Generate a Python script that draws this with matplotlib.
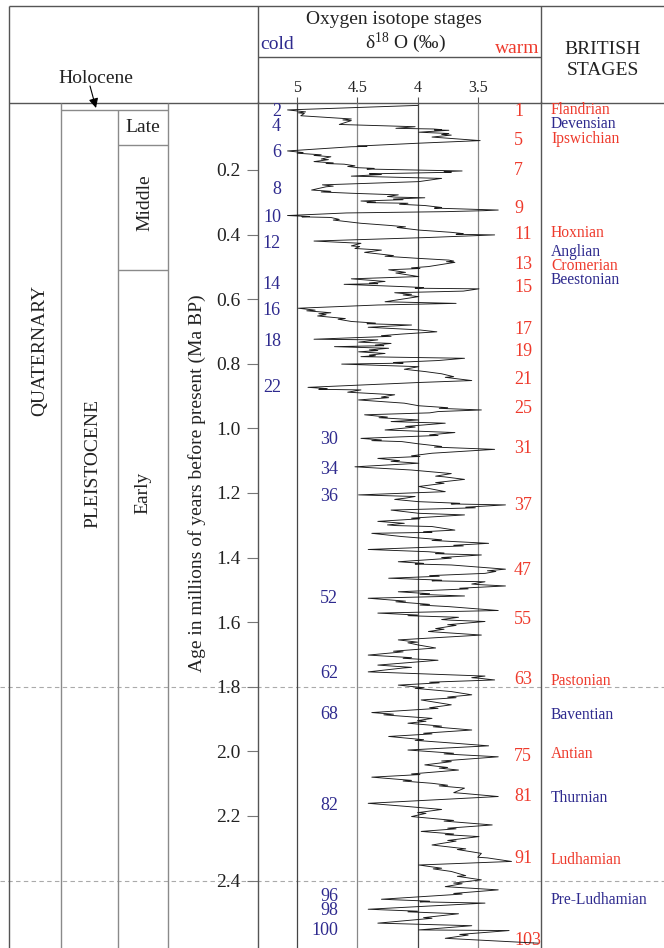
import numpy as np
import matplotlib
matplotlib.use('Agg')
import matplotlib.pyplot as plt
from matplotlib import transforms

plt.rcParams['font.family'] = ['Liberation Serif', 'DejaVu Serif']
plt.rcParams['mathtext.fontset'] = 'custom'
plt.rcParams['mathtext.rm'] = 'Liberation Serif'
plt.rcParams['mathtext.it'] = 'Liberation Serif:italic'

# ---------------- data: (age Ma, d18O permil) ----------------
record_0_06 = [(0.000, 4.00), (0.014, 5.08), (0.020, 4.93), (0.023, 4.99), (0.025, 4.94),
               (0.032, 4.97), (0.042, 4.55), (0.045, 4.62), (0.047, 4.55), (0.059, 4.65),
               (0.066, 4.02), (0.071, 4.18), (0.073, 3.87), (0.075, 3.80), (0.076, 3.86),
               (0.077, 3.74), (0.083, 3.99), (0.087, 3.74), (0.090, 3.80), (0.092, 3.72),
               (0.098, 3.88), (0.109, 3.48), (0.117, 3.99), (0.124, 4.40), (0.126, 4.50),
               (0.127, 4.42), (0.128, 4.55), (0.141, 5.08), (0.146, 4.95), (0.148, 5.00),
               (0.151, 4.88), (0.153, 4.80), (0.155, 4.86), (0.159, 4.72), (0.166, 4.80),
               (0.168, 4.74), (0.174, 4.86), (0.178, 4.70), (0.180, 4.76), (0.182, 4.61),
               (0.187, 4.52), (0.189, 4.58), (0.193, 4.49), (0.195, 4.36), (0.197, 4.42),
               (0.203, 3.63), (0.205, 3.78), (0.207, 3.72), (0.212, 4.40), (0.214, 4.30),
               (0.219, 4.55), (0.226, 3.80), (0.236, 3.99), (0.246, 4.79), (0.250, 4.70),
               (0.252, 4.76), (0.262, 4.88), (0.266, 4.72), (0.268, 4.80), (0.272, 4.55),
               (0.277, 4.16), (0.282, 4.25), (0.284, 4.18), (0.286, 3.94), (0.290, 4.20),
               (0.292, 4.12), (0.296, 4.47), (0.299, 4.35), (0.301, 4.42), (0.303, 4.08),
               (0.306, 4.15), (0.310, 3.94), (0.316, 3.80), (0.318, 3.86), (0.324, 3.33),
               (0.326, 3.45), (0.329, 3.77), (0.333, 4.59), (0.341, 5.08), (0.344, 4.90),
               (0.345, 4.96), (0.347, 4.72), (0.353, 4.65), (0.355, 4.70), (0.365, 4.47),
               (0.372, 4.22), (0.376, 4.10), (0.378, 4.17), (0.386, 3.99), (0.393, 3.72),
               (0.397, 3.62), (0.399, 3.68), (0.401, 3.36), (0.409, 3.91), (0.420, 4.86),
               (0.427, 4.47), (0.435, 4.55), (0.437, 4.48), (0.443, 4.52), (0.448, 4.30),
               (0.455, 4.44), (0.465, 4.20), (0.467, 4.27), (0.473, 4.02), (0.479, 3.74),
               (0.482, 3.70), (0.484, 3.76), (0.486, 3.69), (0.499, 3.91), (0.503, 4.05),
               (0.505, 3.98), (0.509, 4.24), (0.517, 4.10), (0.519, 4.18), (0.530, 3.99),
               (0.537, 4.55), (0.545, 4.27), (0.550, 4.40), (0.552, 4.33), (0.554, 4.61),
               (0.561, 4.13), (0.564, 3.95), (0.566, 4.02), (0.568, 3.49)]
record_06_12 = [(0.575, 3.62), (0.580, 4.19), (0.585, 4.05), (0.587, 4.12), (0.592, 3.99),
                (0.608, 4.27), (0.613, 3.68), (0.618, 4.33), (0.628, 4.99), (0.634, 4.85),
                (0.636, 4.92), (0.642, 4.72), (0.645, 4.82), (0.648, 4.76), (0.652, 4.83),
                (0.660, 4.60), (0.662, 4.66), (0.669, 4.55), (0.674, 4.35), (0.676, 4.42),
                (0.680, 4.05), (0.687, 4.41), (0.695, 3.99), (0.701, 3.84), (0.708, 4.13),
                (0.713, 4.30), (0.715, 4.22), (0.724, 4.86), (0.726, 4.33), (0.733, 4.49),
                (0.737, 4.22), (0.742, 4.35), (0.744, 4.28), (0.747, 4.69), (0.752, 4.24),
                (0.757, 4.40), (0.759, 4.33), (0.763, 4.49), (0.768, 4.27), (0.773, 4.40),
                (0.775, 4.35), (0.778, 4.47), (0.783, 3.61), (0.790, 3.83), (0.796, 4.20),
                (0.798, 4.12), (0.801, 4.63), (0.809, 3.99), (0.817, 4.11), (0.824, 3.94),
                (0.831, 3.80), (0.840, 3.70), (0.842, 3.77), (0.852, 3.55), (0.858, 3.99),
                (0.873, 4.91), (0.877, 4.75), (0.879, 4.82), (0.881, 4.47), (0.888, 4.58),
                (0.896, 4.19), (0.903, 4.30), (0.905, 4.24), (0.912, 4.49), (0.922, 4.11),
                (0.930, 3.99), (0.936, 3.75), (0.938, 3.82), (0.943, 3.47), (0.948, 3.83),
                (0.952, 3.90), (0.958, 4.44), (0.965, 4.25), (0.967, 4.32), (0.974, 3.99),
                (0.979, 4.22), (0.984, 3.77), (0.994, 4.10), (0.996, 4.02), (1.005, 4.27),
                (1.013, 3.69), (1.020, 3.90), (1.022, 3.83), (1.031, 4.47), (1.036, 4.30),
                (1.038, 4.38), (1.041, 4.13), (1.048, 3.99), (1.056, 3.80), (1.058, 3.86),
                (1.065, 3.36), (1.077, 3.88), (1.085, 4.05), (1.087, 3.98), (1.093, 4.33),
                (1.100, 4.15), (1.102, 4.22), (1.108, 3.99), (1.119, 4.52), (1.129, 4.05),
                (1.140, 3.72), (1.148, 3.85), (1.150, 3.78), (1.158, 3.61), (1.168, 3.85),
                (1.170, 3.78), (1.180, 3.99)]
record_12_18 = [(1.190, 3.85), (1.196, 3.77), (1.206, 4.49), (1.211, 4.02), (1.216, 4.10),
                (1.220, 4.19), (1.227, 3.99), (1.232, 3.65), (1.234, 3.72), (1.237, 3.27),
                (1.244, 3.60), (1.246, 3.52), (1.253, 4.22), (1.263, 3.99), (1.268, 3.61),
                (1.278, 4.05), (1.280, 3.98), (1.288, 4.33), (1.294, 4.11), (1.299, 4.25),
                (1.301, 4.18), (1.304, 3.88), (1.315, 3.69), (1.320, 3.95), (1.322, 3.88),
                (1.325, 4.38), (1.335, 4.13), (1.345, 3.80), (1.347, 3.88), (1.356, 3.41),
                (1.362, 3.70), (1.364, 3.62), (1.375, 4.41), (1.382, 3.91), (1.386, 3.78),
                (1.388, 3.85), (1.392, 3.47), (1.400, 3.80), (1.402, 3.72), (1.413, 4.16),
                (1.418, 3.95), (1.420, 4.02), (1.423, 3.72), (1.436, 3.27), (1.441, 3.42),
                (1.443, 3.35), (1.449, 3.44), (1.456, 3.90), (1.458, 3.82), (1.464, 4.24),
                (1.470, 3.80), (1.472, 3.88), (1.475, 3.44), (1.482, 3.55), (1.484, 3.48),
                (1.488, 3.27), (1.495, 3.65), (1.497, 3.58), (1.506, 4.16), (1.512, 3.90),
                (1.514, 3.98), (1.519, 3.61), (1.526, 4.41), (1.535, 4.10), (1.537, 4.18),
                (1.545, 3.90), (1.547, 3.98), (1.552, 3.74), (1.564, 3.33), (1.572, 4.33),
                (1.578, 4.00), (1.580, 4.08), (1.585, 3.66), (1.592, 3.80), (1.594, 3.72),
                (1.598, 3.44), (1.608, 3.75), (1.610, 3.68), (1.620, 3.85), (1.622, 3.78),
                (1.629, 3.91), (1.640, 3.47), (1.655, 4.16), (1.662, 4.00), (1.664, 4.08),
                (1.671, 3.99), (1.680, 3.85), (1.682, 3.92), (1.690, 4.20), (1.692, 4.12),
                (1.702, 4.41), (1.710, 4.05), (1.712, 4.12), (1.718, 3.83), (1.733, 4.33),
                (1.740, 4.05), (1.742, 4.12), (1.754, 4.41), (1.767, 3.44), (1.772, 3.55),
                (1.774, 3.48), (1.779, 3.36), (1.786, 3.90), (1.788, 3.82), (1.795, 4.16),
                (1.803, 3.95), (1.805, 4.02), (1.815, 3.72)]
record_18_26 = [(1.825, 3.55), (1.832, 3.75), (1.834, 3.68), (1.841, 3.97), (1.856, 3.72),
                (1.865, 3.90), (1.867, 3.83), (1.880, 4.38), (1.885, 4.20), (1.887, 4.28),
                (1.898, 3.88), (1.905, 4.00), (1.907, 3.93), (1.913, 4.08), (1.922, 3.80),
                (1.924, 3.87), (1.934, 3.55), (1.944, 3.95), (1.946, 3.88), (1.954, 4.24),
                (1.964, 3.95), (1.966, 4.02), (1.975, 3.69), (1.983, 3.41), (1.996, 4.08),
                (2.006, 3.70), (2.008, 3.78), (2.017, 3.33), (2.030, 3.80), (2.032, 3.72),
                (2.042, 3.94), (2.050, 3.75), (2.052, 3.82), (2.058, 3.66), (2.070, 4.05),
                (2.072, 3.98), (2.080, 4.38), (2.090, 4.05), (2.092, 4.12), (2.099, 3.88),
                (2.105, 3.75), (2.107, 3.82), (2.114, 3.61), (2.128, 3.70), (2.130, 3.63),
                (2.140, 3.33), (2.161, 4.41), (2.171, 4.08), (2.180, 3.80), (2.190, 4.00),
                (2.192, 3.93), (2.202, 4.05), (2.214, 3.70), (2.216, 3.78), (2.228, 3.38),
                (2.238, 3.75), (2.240, 3.68), (2.248, 3.97), (2.256, 3.70), (2.258, 3.77),
                (2.264, 3.49), (2.276, 3.75), (2.278, 3.68), (2.290, 3.88), (2.302, 3.60),
                (2.304, 3.67), (2.316, 3.47), (2.328, 3.50), (2.330, 3.42), (2.341, 3.22),
                (2.352, 3.99), (2.362, 3.80), (2.364, 3.87), (2.372, 3.72), (2.385, 3.60),
                (2.387, 3.67), (2.398, 3.47), (2.408, 3.70), (2.410, 3.63), (2.419, 3.77),
                (2.429, 3.33), (2.440, 3.70), (2.442, 3.63), (2.458, 4.30), (2.464, 3.90),
                (2.466, 3.98), (2.470, 3.44), (2.489, 4.41), (2.495, 4.00), (2.497, 4.08),
                (2.503, 3.66), (2.515, 3.95), (2.517, 3.88), (2.532, 4.33), (2.540, 3.55),
                (2.553, 3.99), (2.555, 3.24), (2.567, 3.65), (2.569, 3.58), (2.579, 3.77),
                (2.594, 3.00)]

age_ticks = [0.2, 0.4, 0.6, 0.8, 1.0, 1.2, 1.4, 1.6, 1.8, 2.0, 2.2, 2.4]
d18o_ticks = [5, 4.5, 4, 3.5]
d18o_ticklabels = ['5', '4.5', '4', '3.5']

cold_stage_labels = ['2', '4', '6', '8', '10', '12', '14', '16', '18', '22',
                     '30', '34', '36', '52', '62', '68', '82', '96', '98', '100']
cold_stage_ages = [0.020, 0.066, 0.145, 0.260, 0.348, 0.427, 0.554, 0.636, 0.732, 0.874,
                   1.033, 1.126, 1.211, 1.526, 1.760, 1.887, 2.169, 2.448, 2.494, 2.555]
warm_stage_labels = ['1', '5', '7', '9', '11', '13', '15', '17', '19', '21',
                     '25', '31', '37', '47', '55', '63', '75', '81', '91', '103']
warm_stage_ages = [0.020, 0.109, 0.203, 0.319, 0.399, 0.494, 0.564, 0.693, 0.763, 0.848,
                   0.938, 1.062, 1.238, 1.439, 1.593, 1.777, 2.016, 2.140, 2.331, 2.586]

british_stages = ['Flandrian', 'Devensian', 'Ipswichian', 'Hoxnian', 'Anglian', 'Cromerian',
                  'Beestonian', 'Pastonian', 'Baventian', 'Antian', 'Thurnian', 'Ludhamian',
                  'Pre-Ludhamian']
british_ages = [0.013, 0.059, 0.105, 0.394, 0.453, 0.497, 0.541, 1.781, 1.887, 2.008,
                2.144, 2.336, 2.460]
british_warm = [True, False, True, True, False, True, False, True, False, True, False,
                True, False]

boundary_ages = [1.8, 2.4]

# ---------------- styling ----------------
BLUE = '#2e2a8e'
RED = '#ee3a2c'
INK = '#222222'
LINE = '#555555'
COL = '#8a8a8a'

W, H = 664, 948
fig = plt.figure(figsize=(W / 100, H / 100), dpi=100)
fig.patch.set_facecolor('white')

# overlay axes in pixel coordinates for the table frame and annotations
ov = fig.add_axes([0, 0, 1, 1])
ov.set_xlim(0, W)
ov.set_ylim(H, 0)
ov.axis('off')

TOP = 102.5
ax = fig.add_axes([258 / W, 0, 283 / W, (H - TOP) / H])
ax.set_facecolor('none')

records = record_0_06 + record_06_12 + record_12_18 + record_18_26
ages = np.array([r[0] for r in records])
vals = np.array([r[1] for r in records])

for t in d18o_ticks:
    ax.axvline(t, color=('#444444' if t in (5, 4) else '#888888'), lw=0.9, zorder=1)
ax.plot(vals, ages, color='#1a1a1a', lw=0.65, zorder=3)

ax.set_xlim(5.325, 2.975)
ax.set_ylim(2.609, -0.009)
ax.xaxis.set_ticks_position('top')
ax.set_xticks(d18o_ticks)
ax.set_xticklabels(d18o_ticklabels)
ax.set_yticks(age_ticks)
ax.set_yticklabels([f'{a:.1f}' for a in age_ticks])
ax.tick_params(axis='y', direction='out', length=8, width=0.8, color='#777777',
               labelsize=14, pad=4.5, labelcolor=INK)
ax.tick_params(axis='x', direction='out', length=4, width=0.8, color='#555555',
               labelsize=11.5, pad=0.5, labelcolor=INK)
for s in ('top', 'bottom'):
    ax.spines[s].set_visible(False)
for s in ('left', 'right'):
    ax.spines[s].set_color(LINE)
    ax.spines[s].set_linewidth(1.0)

# ---------------- frame lines ----------------
def hl(y, x0, x1, c=LINE, lw=1.0, **kw):
    ov.plot([x0, x1], [y, y], color=c, lw=lw, solid_capstyle='butt', **kw)

def vl(x, y0, y1, c=LINE, lw=1.0, **kw):
    ov.plot([x, x], [y0, y1], color=c, lw=lw, solid_capstyle='butt', **kw)

hl(6, 9, W)
vl(9, 6, H)
hl(TOP, 9, W)
hl(57, 258, 541)
vl(258, 6, TOP)
vl(541, 6, TOP)
vl(60.5, TOP, H, c=COL)
vl(118, 110, H, c=COL)
vl(167.5, TOP, H, c=COL)
hl(110, 60.5, 167.5, c=COL)
hl(145, 118, 167.5, c=COL)
hl(270, 118, 167.5, c=COL)

# boundary dashed lines (age-based y, pixel-based x)
bt = transforms.blended_transform_factory(ov.transData, ax.transData)
for a in boundary_ages:
    ov.plot([0, W], [a, a], transform=bt, color='#aaaaaa', lw=0.8,
            dashes=(4, 3), clip_on=False, zorder=0)

# ---------------- header texts ----------------
ov.text(394, 19, 'Oxygen isotope stages', fontsize=14, ha='center', va='center', color=INK)
ov.text(406, 43, 'δ$^{18}$ O (‰)', fontsize=14, ha='center', va='center', color=INK)
ov.text(277, 44, 'cold', fontsize=14, ha='center', va='center', color=BLUE)
ov.text(517, 48, 'warm', fontsize=14, ha='center', va='center', color=RED)
ov.text(603, 49, 'BRITISH', fontsize=14, ha='center', va='center', color=INK)
ov.text(603, 70, 'STAGES', fontsize=14, ha='center', va='center', color=INK)
ov.text(96, 78, 'Holocene', fontsize=14, ha='center', va='center', color=INK)
ov.annotate('', xy=(96, 108), xytext=(90, 86),
            arrowprops=dict(arrowstyle='-|>', color='black', lw=0.8, mutation_scale=14,
                            shrinkA=0, shrinkB=0))

# ---------------- column texts ----------------
ov.text(40, 350, 'QUATERNARY', fontsize=14, rotation=90, ha='center', va='center', color=INK)
ov.text(93, 463, 'PLEISTOCENE', fontsize=14, rotation=90, ha='center', va='center', color=INK)
ov.text(143, 127, 'Late', fontsize=14, ha='center', va='center', color=INK)
ov.text(145, 203, 'Middle', fontsize=14, rotation=90, ha='center', va='center', color=INK)
ov.text(143, 493, 'Early', fontsize=14, rotation=90, ha='center', va='center', color=INK)
ov.text(197, 483, 'Age in millions of years before present (Ma BP)', fontsize=14,
        rotation=90, ha='center', va='center', color=INK)

# ---------------- stage numbers ----------------
for lab, a in zip(cold_stage_labels, cold_stage_ages):
    x = 281 if a < 0.95 else 338
    ov.text(x, a, lab, transform=bt, fontsize=13, ha='right', va='center', color=BLUE)
for lab, a in zip(warm_stage_labels, warm_stage_ages):
    ov.text(514, a, lab, transform=bt, fontsize=13, ha='left', va='center', color=RED)
for lab, a, w in zip(british_stages, british_ages, british_warm):
    ov.text(551, a, lab, transform=bt, fontsize=11.2, ha='left', va='center',
            color=(RED if w else BLUE))

fig.savefig('out.png', dpi=100, facecolor='white')
